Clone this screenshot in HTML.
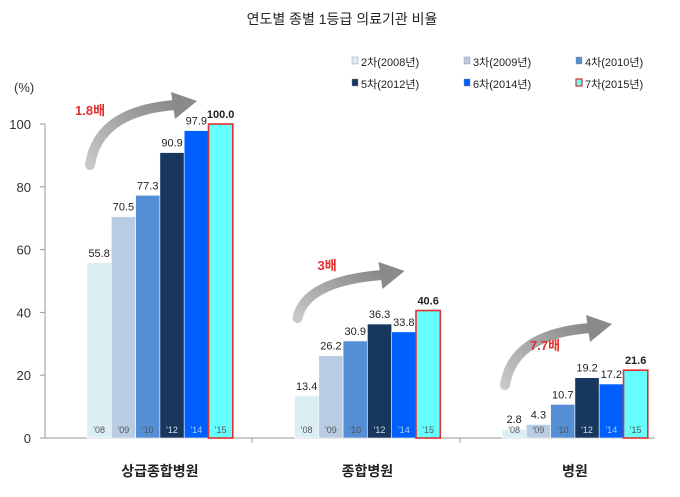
<!DOCTYPE html>
<html><head><meta charset="utf-8">
<style>
body{margin:0;background:#fff;width:680px;height:492px;overflow:hidden}
svg{font-family:"Liberation Sans","Noto Sans CJK KR",sans-serif}
</style></head>
<body>
<svg id="chart" width="680" height="492" viewBox="0 0 680 492">
<defs><linearGradient id="ag" x1="0" y1="1" x2="1" y2="0"><stop offset="0" stop-color="#c8c8c8"/><stop offset="1" stop-color="#8a8a8a"/></linearGradient></defs>
<text x="342" y="24" font-size="14" text-anchor="middle" fill="#222">연도별 종별 1등급 의료기관 비율</text>
<text x="14" y="92" font-size="13" fill="#333">(%)</text>
<g id="legend"></g>
<g id="axes"></g>
<g id="arrows"></g>
<g id="bars"></g>
</svg>
<script>
const categories = ["상급종합병원","종합병원","병원"];
const years = ["'08","'09","'10","'12","'14","'15"];
const seriesNames = ["2차(2008년)","3차(2009년)","4차(2010년)","5차(2012년)","6차(2014년)","7차(2015년)"];
const values = [
  [55.8,70.5,77.3,90.9,97.9,100.0],
  [13.4,26.2,30.9,36.3,33.8,40.6],
  [2.8,4.3,10.7,19.2,17.2,21.6]
];
const growthLabels = ["1.8배","3배","7.7배"];
const yTicks = [0,20,40,60,80,100];

const colors = ["#dbeef4","#b8cce4","#558ed5","#17375e","#0060ff","#66ffff"];
const ns="http://www.w3.org/2000/svg";
const y0=438, yScale=3.14;
const yPos=v=>y0-v*yScale;
const groupX=i=>87+i*207.5;
const barW=24.3;
const barX=(g,s)=>groupX(g)+s*barW;
function mk(tag,attrs,parent,txt){const e=document.createElementNS(ns,tag);for(const k in attrs)e.setAttribute(k,attrs[k]);if(txt!==undefined)e.textContent=txt;parent.appendChild(e);return e;}

const axes=document.getElementById('axes');
yTicks.forEach(t=>{
  const tx=mk('text',{x:31,y:yPos(t)+5,'font-size':13,'text-anchor':'end',fill:'#333'},axes,t);
  
  
  const tl=mk('line',{x1:40,x2:45,y1:yPos(t),y2:yPos(t),stroke:'#999'},axes);
  
  
});
const yl=mk('line',{x1:45,x2:45,y1:yPos(100),y2:y0,stroke:'#999'},axes);


const xl=mk('line',{x1:45,x2:655,y1:y0,y2:y0,stroke:'#999'},axes);


[252,460].forEach(x=>{const s=mk('line',{x1:x,x2:x,y1:y0,y2:y0+5,stroke:'#999'},axes);
  
  });

// arrow decoration anchors (relative to group start x): start, tip, label
const arrowGeom=[
  {sy:165,ty:97,ly:115,lx:-12},
  {sy:318,ty:267,ly:270,lx:23},
  {sy:385,ty:320,ly:350,lx:28}
];
const bars=document.getElementById('bars');
const arrows=document.getElementById('arrows');
categories.forEach((c,g)=>{
  values[g].forEach((v,s)=>{
    const x=barX(g,s), y=yPos(v);
    const r=mk('rect',{x:x,y:y,width:barW,height:y0-y,fill:colors[s],stroke:s===5?'#e03030':'#fff','stroke-width':s===5?1.6:0.6},bars);
    
    
    const lb=mk('text',{x:x+barW/2,y:y-6,'font-size':11,'text-anchor':'middle',fill:'#222','font-weight':s===5?'bold':'normal'},bars,v.toFixed(1));
    
    
    const yr=mk('text',{x:x+barW/2,y:y0-5,'font-size':9,'text-anchor':'middle',fill:s>=3&&s<5?(s===4?'#9fd0ff':'#ddd'):'#555'},bars,years[s]);
    
    
  });
  const cl=mk('text',{x:groupX(g)+3*barW,y:476,'font-size':14,'font-weight':'bold','text-anchor':'middle',fill:'#222'},axes,c);
  
  
  const ag=arrowGeom[g];
  const ax=groupX(g);
  const sx=ax+3, tx=ax+110, by=ag.sy, ty=ag.ty;
  const p=mk('path',{d:`M${sx},${by} Q${sx+8},${ty+14} ${tx-22},${ty+8}`,stroke:'url(#ag)',fill:'none','stroke-width':10,'stroke-linecap':'round'},arrows);
  
  
  const h=mk('polygon',{points:`${tx-26},${ty-5} ${tx},${ty+4} ${tx-22},${ty+22}`,fill:'#8a8a8a'},arrows);
  
  
  const gl=mk('text',{x:ax+ag.lx,y:ag.ly,'font-size':13,'font-weight':'bold',fill:'#e03030'},arrows,growthLabels[g]);
  
  
});

const legend=document.getElementById('legend');
seriesNames.forEach((n,i)=>{
  const col=i%3,row=Math.floor(i/3);
  const x=352+col*112,y=66+row*22;
  const r=mk('rect',{x:x,y:y-9,width:6,height:7,fill:colors[i],stroke:i===5?'#e03030':'#888','stroke-width':i===5?1.2:0.4},legend);
  
  
  const t=mk('text',{x:x+9,y:y,'font-size':11,fill:'#222'},legend,n);
  
  
});
</script>
</body></html>
